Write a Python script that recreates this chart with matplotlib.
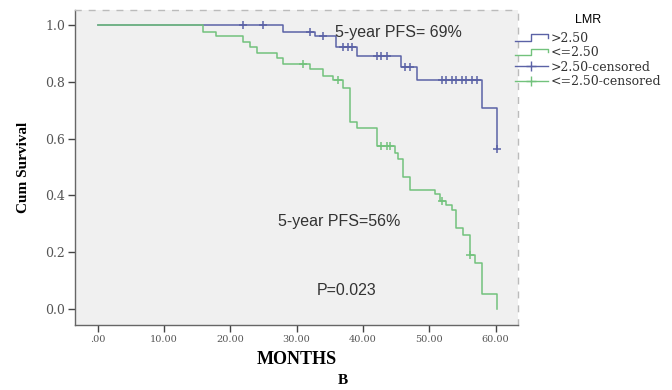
import matplotlib.pyplot as plt
from matplotlib.legend_handler import HandlerBase
from matplotlib.lines import Line2D

# Kaplan-Meier steps (months, cumulative survival after the step)
high_t = [0, 28.0, 32.8, 36.0, 39.1, 45.8, 48.1, 57.9, 60.2]
high_s = [1.0, 0.974, 0.96, 0.923, 0.892, 0.853, 0.806, 0.707, 0.563]
high_cens_t = [22.0, 25.0, 32.0, 34.0, 37.0, 37.8, 38.3, 42.1, 42.8, 43.6, 46.3, 47.1,
               51.9, 52.6, 53.4, 54.1, 54.9, 55.6, 56.4, 57.2, 60.2]
high_cens_s = [1.0, 1.0, 0.974, 0.96, 0.923, 0.923, 0.923, 0.892, 0.892, 0.892, 0.853, 0.853,
               0.806, 0.806, 0.806, 0.806, 0.806, 0.806, 0.806, 0.806, 0.563]

low_t = [0, 15.9, 17.9, 22.0, 23.0, 24.0, 27.0, 28.0, 32.0, 34.0, 35.5, 37.0, 38.1, 39.1,
         42.1, 44.8, 45.3, 46.1, 47.1, 50.9, 51.6, 52.6, 53.4, 54.1, 55.1, 56.1, 56.9, 57.9, 60.2]
low_s = [1.0, 0.974, 0.96, 0.941, 0.923, 0.90, 0.883, 0.862, 0.845, 0.822, 0.805, 0.777, 0.657,
         0.636, 0.574, 0.55, 0.53, 0.466, 0.42, 0.405, 0.38, 0.366, 0.35, 0.284, 0.261, 0.19,
         0.161, 0.053, 0.0]
low_cens_t = [31.0, 36.2, 42.8, 43.6, 44.1, 51.9, 56.1]
low_cens_s = [0.862, 0.805, 0.574, 0.574, 0.574, 0.38, 0.19]

xticks = [0, 10, 20, 30, 40, 50, 60]
xticklabels = ['.00', '10.00', '20.00', '30.00', '40.00', '50.00', '60.00']
yticks = [0.0, 0.2, 0.4, 0.6, 0.8, 1.0]
legend_labels = ['>2.50', '<=2.50', '>2.50-censored', '<=2.50-censored']

blue = '#5b62a6'
green = '#72c27c'
serif = 'Liberation Serif'
wide_serif = 'DejaVu Serif'
sans = 'Liberation Sans'


class StepHandler(HandlerBase):
    # small step glyph for the survival-function entries
    def create_artists(self, legend, orig_handle, xdescent, ydescent, width, height, fontsize, trans):
        x0 = -xdescent
        y0 = -ydescent
        xs = [x0, x0 + 0.5 * width, x0 + 0.5 * width, x0 + width, x0 + width]
        ys = [y0 + 0.1 * height, y0 + 0.1 * height, y0 + 0.85 * height, y0 + 0.85 * height, y0 + 0.45 * height]
        line = Line2D(xs, ys, color=orig_handle.get_color(), lw=1.0, transform=trans)
        return [line]


fig = plt.figure(figsize=(6.72, 3.90), dpi=100)
ax = fig.add_axes([0.1116, 0.1667, 0.6594, 0.8077])
ax.set_facecolor('#f0f0f0')

h1, = ax.step(high_t, high_s, where='post', color=blue, lw=1.1)
h2, = ax.step(low_t, low_s, where='post', color=green, lw=1.1)
ax.plot(high_cens_t, high_cens_s, ls='none', marker='+', ms=6, mew=1.1, color=blue)
ax.plot(low_cens_t, low_cens_s, ls='none', marker='+', ms=6, mew=1.1, color=green)

# legend entries for censored cases: line with a cross in the middle
h3 = Line2D([], [], color=blue, lw=1.0, marker='+', ms=7, mew=1.0)
h4 = Line2D([], [], color=green, lw=1.0, marker='+', ms=7, mew=1.0)

ax.set_xlim(-3.4, 63.4)
ax.set_ylim(-0.056, 1.053)
ax.set_xticks(xticks)
ax.set_xticklabels(xticklabels, family=wide_serif, fontsize=7, color='#555555')
ax.set_yticks(yticks)
ax.set_yticklabels(['%.1f' % v for v in yticks], family=wide_serif, fontsize=9, color='#555555')
ax.tick_params(axis='both', direction='out', length=5, width=1, color='#444444', pad=2)

for side in ['left', 'bottom']:
    ax.spines[side].set_color('#666666')
    ax.spines[side].set_linewidth(1.0)
for side in ['top', 'right']:
    ax.spines[side].set_color('#bbbbbb')
    ax.spines[side].set_linestyle((0, (4, 6)))
    ax.spines[side].set_linewidth(1.0)

ax.set_ylabel('Cum Survival', family=serif, fontweight='bold', fontsize=11, labelpad=11)
ax.set_xlabel('MONTHS', family=serif, fontweight='bold', fontsize=13, labelpad=5)

ax.text(45.4, 0.975, '5-year PFS= 69%', family=sans, fontsize=11.5, color='#333333', ha='center', va='center')
ax.text(36.5, 0.31, '5-year PFS=56%', family=sans, fontsize=11.5, color='#333333', ha='center', va='center')
ax.text(37.5, 0.067, 'P=0.023', family=sans, fontsize=11.5, color='#333333', ha='center', va='center')

fig.text(343 / 672, 1 - 380 / 390, 'B', family=serif, fontweight='bold', fontsize=11, ha='center', va='center')

leg = fig.legend([h1, h2, h3, h4], legend_labels,
                 handler_map={h1: StepHandler(), h2: StepHandler()},
                 loc='upper left', bbox_to_anchor=(515 / 672, 1 - 14 / 390), frameon=False,
                 title='LMR', prop={'family': wide_serif, 'size': 9}, handlelength=2.6,
                 handletextpad=0.25, labelspacing=0.12, borderaxespad=0, borderpad=0)
leg.get_title().set_family(sans)
leg.get_title().set_fontsize(9)
leg._legend_box.sep = 4
for t in leg.get_texts():
    t.set_color('#333333')

fig.savefig('out.png', dpi=100)
